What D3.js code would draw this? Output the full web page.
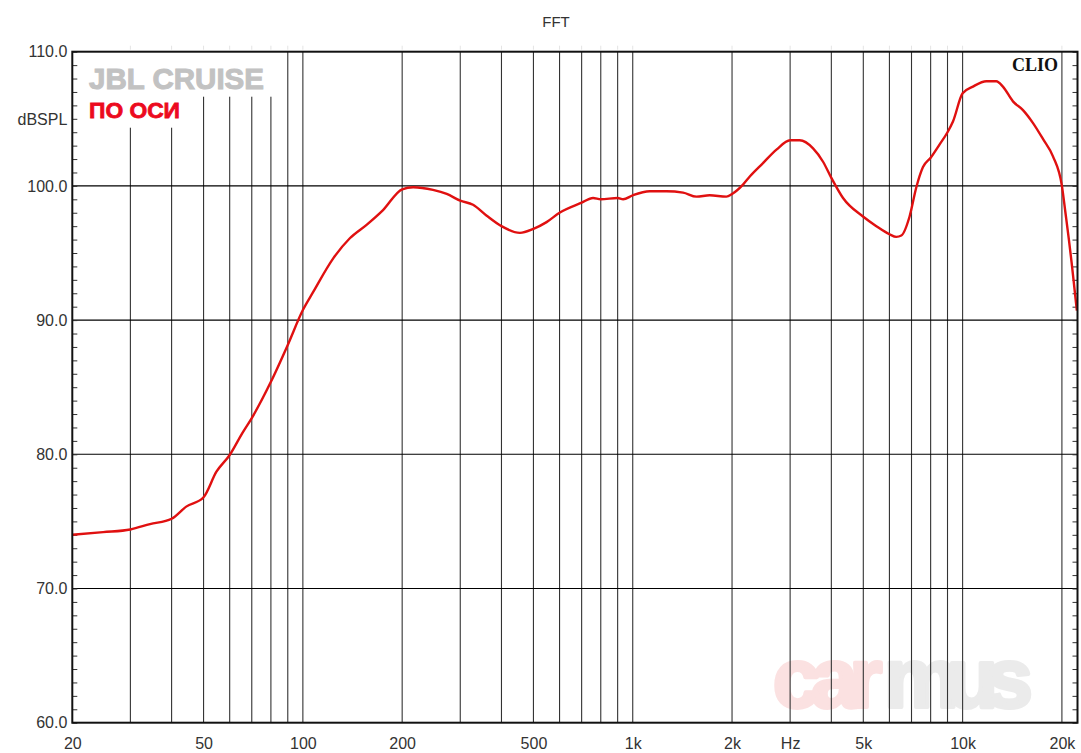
<!DOCTYPE html>
<html>
<head>
<meta charset="utf-8">
<script src="https://cdn.jsdelivr.net/npm/d3@7"></script>
<style>
  body { margin: 0; background: #fff; }
  svg { display: block; }
</style>
</head>
<body>
<div id="chart"></div>
<script>
// frequency response (Hz, dBSPL)
const freqs = [20, 24.8, 30, 34.4, 40, 44.3, 50, 54.7, 60, 65.6, 70, 80, 90, 100, 107.5, 123.6, 138.8, 156, 175,
  200, 216, 248, 273, 300, 328, 360, 400, 455, 500, 548, 600, 700, 758, 800, 900, 935, 1000, 1126, 1265, 1421,
  1560, 1711, 1923, 2000, 2159, 2264, 2483, 2727, 3000, 3207, 3521, 3775, 4000, 4340, 5000, 5477, 6000, 6295,
  6520, 6903, 7240, 7584, 8000, 8520, 9000, 9350, 10000, 10750, 11800, 12650, 13250, 14210, 15240, 16330,
  17520, 18790, 20000, 20500, 21000, 21400, 21800, 22200];
const spl = [74.0, 74.2, 74.4, 74.8, 75.2, 76.1, 76.8, 78.7, 79.95, 81.6, 82.7, 85.4, 88.15, 90.75, 92.1, 94.6, 96.1, 97.1, 98.2,
  99.75, 99.9, 99.7, 99.4, 98.9, 98.6, 97.8, 97.0, 96.5, 96.8, 97.3, 98.0, 98.75, 99.1, 99.0, 99.1, 99.0, 99.3, 99.6, 99.6, 99.5,
  99.2, 99.3, 99.2, 99.4, 100.1, 100.7, 101.7, 102.7, 103.4, 103.4, 102.8, 101.8, 100.6, 99.1, 97.7, 97.0, 96.4, 96.2,
  96.3, 97.7, 99.9, 101.4, 102.1, 103.1, 104.0, 104.8, 106.9, 107.4, 107.8, 107.8, 107.4, 106.3, 105.65, 104.7,
  103.5, 102.2, 100.0, 98.0, 96.0, 94.3, 92.5, 90.7];

const gridFreqs = [30, 40, 50, 60, 70, 80, 90, 100, 200, 300, 400, 500, 600, 700, 800, 900,
  1000, 2000, 3000, 4000, 5000, 6000, 7000, 8000, 9000, 10000, 20000];
const xLabelFreqs = [20, 50, 100, 200, 500, 1000, 2000, 3000, 5000, 10000, 20000];
const xLabelTexts = ["20", "50", "100", "200", "500", "1k", "2k", "Hz", "5k", "10k", "20k"];
const yMajor = [60, 70, 80, 90, 100, 110];

const width = 1081, height = 753;
const plot = { left: 72.3, right: 1077.5, top: 51.7, bottom: 722.7 };

const svg = d3.select("#chart").append("svg")
  .attr("width", width)
  .attr("height", height);

const x = d3.scaleLog().domain([20, 22300]).range([plot.left, plot.right]);
const y = d3.scaleLinear().domain([60, 110]).range([plot.bottom, plot.top]);

// watermark
const markFont = "Liberation Sans, Arial, sans-serif";
svg.append("text")
  .attr("x", 773).attr("y", 707)
  .style("font-family", markFont).style("font-weight", "bold").style("font-size", "84px")
  .style("letter-spacing", "-8.5px")
  .attr("fill", "#fbe1e1").attr("stroke", "#fbe1e1")
  .attr("stroke-width", 4).attr("stroke-linejoin", "round")
  .text("car");
svg.append("text")
  .attr("x", 884).attr("y", 707)
  .style("font-family", markFont).style("font-weight", "bold").style("font-size", "84px")
  .style("letter-spacing", "-12px")
  .attr("fill", "#ebebeb").attr("stroke", "#ebebeb")
  .attr("stroke-width", 4).attr("stroke-linejoin", "round")
  .text("mus");

// vertical grid
svg.append("g")
  .selectAll("line")
  .data(gridFreqs)
  .join("line")
  .attr("x1", d => x(d)).attr("x2", d => x(d))
  .attr("y1", plot.top).attr("y2", plot.bottom)
  .attr("stroke", "#333").attr("stroke-width", 1.1);

// faint marks above the frame
svg.append("g")
  .selectAll("line")
  .data(gridFreqs)
  .join("line")
  .attr("x1", d => x(d)).attr("x2", d => x(d))
  .attr("y1", plot.top - 6).attr("y2", plot.top - 2)
  .attr("stroke", "#e4e4e4").attr("stroke-width", 1);

// horizontal grid
svg.append("g")
  .selectAll("line")
  .data(yMajor.slice(1, -1))
  .join("line")
  .attr("x1", plot.left).attr("x2", plot.right)
  .attr("y1", d => y(d)).attr("y2", d => y(d))
  .attr("stroke", "#000").attr("stroke-width", 1.1);

// white boxes behind the caption
svg.append("rect").attr("x", plot.left).attr("y", plot.top).attr("width", 208).attr("height", 45).attr("fill", "#fff");
svg.append("rect").attr("x", plot.left).attr("y", plot.top + 44).attr("width", 112).attr("height", 32).attr("fill", "#fff");

// caption: model and "on axis"
svg.append("text")
  .attr("x", 89).attr("y", 89)
  .attr("textLength", 175).attr("lengthAdjust", "spacingAndGlyphs")
  .style("font-family", markFont).style("font-weight", "bold").style("font-size", "30px")
  .attr("fill", "#c2c2c2").attr("stroke", "#c2c2c2").attr("stroke-width", 1)
  .text("JBL CRUISE");
svg.append("text")
  .attr("x", 89).attr("y", 118)
  .attr("textLength", 91).attr("lengthAdjust", "spacingAndGlyphs")
  .style("font-family", markFont).style("font-weight", "bold").style("font-size", "22px")
  .attr("fill", "#ec0a1e").attr("stroke", "#ec0a1e").attr("stroke-width", 0.8)
  .text("ПО ОСИ");

// minor dB ticks on both sides
const minor = d3.range(60, 111, 1);
svg.append("g")
  .attr("transform", `translate(${plot.left},0)`)
  .call(d3.axisRight(y).tickValues(minor).tickSize(5).tickFormat(""))
  .call(g => g.select(".domain").remove())
  .selectAll("line").attr("stroke", "#333");
svg.append("g")
  .attr("transform", `translate(${plot.right},0)`)
  .call(d3.axisLeft(y).tickValues(minor).tickSize(5).tickFormat(""))
  .call(g => g.select(".domain").remove())
  .selectAll("line").attr("stroke", "#333");

// response curve
const pts = freqs.map((f, i) => [x(f), y(spl[i])]);
svg.append("path")
  .attr("d", d3.line().curve(d3.curveMonotoneX)(pts))
  .attr("fill", "none")
  .attr("stroke", "#e01010")
  .attr("stroke-width", 2.4)
  .attr("stroke-linejoin", "round");

// frame
svg.append("rect")
  .attr("x", plot.left).attr("y", plot.top)
  .attr("width", plot.right - plot.left).attr("height", plot.bottom - plot.top)
  .attr("fill", "none").attr("stroke", "#111").attr("stroke-width", 2);

// y labels
const yAxis = svg.append("g")
  .attr("transform", `translate(${plot.left},0)`)
  .call(d3.axisLeft(y).tickValues(yMajor).tickSize(0).tickPadding(5).tickFormat(d3.format(".1f")));
yAxis.select(".domain").remove();
yAxis.selectAll("text")
  .style("font-family", "Liberation Sans, Arial, sans-serif")
  .style("font-size", "16px").style("fill", "#333");

svg.append("text")
  .attr("x", plot.left - 5).attr("y", 119).attr("dy", "0.35em")
  .attr("text-anchor", "end")
  .style("font-family", "Liberation Sans, Arial, sans-serif")
  .style("font-size", "16px").style("fill", "#333")
  .text("dBSPL");

// x labels
const xAxis = svg.append("g")
  .attr("transform", `translate(0,${plot.bottom})`)
  .call(d3.axisBottom(x).tickValues(xLabelFreqs).tickSize(0).tickPadding(15)
    .tickFormat((d, i) => xLabelTexts[i]));
xAxis.select(".domain").remove();
xAxis.selectAll("text")
  .style("font-family", "Liberation Sans, Arial, sans-serif")
  .style("font-size", "16px").style("fill", "#333");

// title and CLIO mark
svg.append("text")
  .attr("x", 556).attr("y", 27)
  .attr("text-anchor", "middle")
  .style("font-family", "Liberation Sans, Arial, sans-serif")
  .style("font-size", "15px").style("fill", "#333")
  .text("FFT");
svg.append("text")
  .attr("x", 1012).attr("y", 71)
  .attr("textLength", 46).attr("lengthAdjust", "spacingAndGlyphs")
  .style("font-family", "Liberation Serif, Times New Roman, serif")
  .style("font-weight", "bold").style("font-size", "18px")
  .style("fill", "#111")
  .text("CLIO");
</script>
</body>
</html>
